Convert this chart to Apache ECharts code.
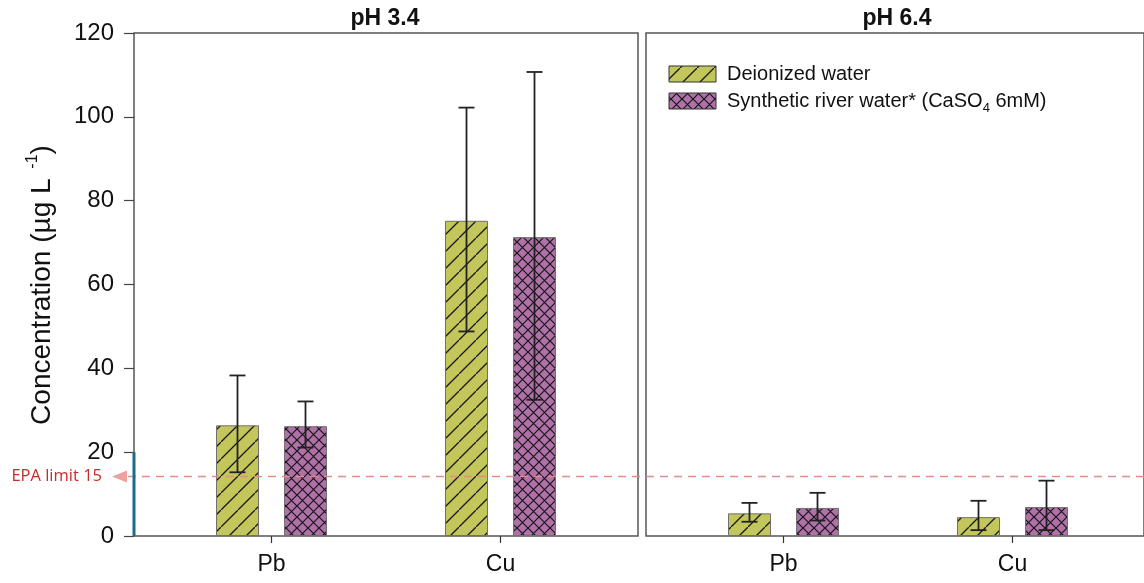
<!DOCTYPE html>
<html>
<head>
<meta charset="utf-8">
<script src="https://cdn.jsdelivr.net/npm/echarts@6/dist/echarts.min.js"></script>
<style>
html,body{margin:0;padding:0;background:#fff;}
#chart{width:1144px;height:583px;}
</style>
</head>
<body>
<div id="chart"></div>
<script>
// ---- data ----
const categories = ['Pb', 'Cu'];
const panelTitles = ['pH 3.4', 'pH 6.4'];
const seriesNames = ['Deionized water', 'Synthetic river water* (CaSO4 6mM)'];

const di_pH34 = [26.4, 75.2];
const di_pH34_lo = [15.2, 48.8];
const di_pH34_hi = [38.3, 102.2];
const srw_pH34 = [26.2, 71.3];
const srw_pH34_lo = [21.1, 32.5];
const srw_pH34_hi = [32.1, 110.7];

const di_pH64 = [5.4, 4.5];
const di_pH64_lo = [3.4, 1.4];
const di_pH64_hi = [7.9, 8.4];
const srw_pH64 = [6.7, 6.9];
const srw_pH64_lo = [3.7, 1.4];
const srw_pH64_hi = [10.3, 13.2];

const yMin = 0, yMax = 120, yInterval = 20;
const epaLimit = 14.2;
const epaLabel = 'EPA limit 15';
const blueSpan = [0, 20];

// ---- patterns ----
function hatchPattern(bg, size, width, draw) {
  const c = document.createElement('canvas');
  c.width = size; c.height = size;
  const ctx = c.getContext('2d');
  ctx.fillStyle = bg; ctx.fillRect(0, 0, size, size);
  ctx.strokeStyle = '#161616'; ctx.lineWidth = width;
  draw(ctx, size);
  return c;
}
const greenCanvas = hatchPattern('#c3c65a', 17, 1.3, (ctx, s) => {
  ctx.beginPath();
  ctx.moveTo(-1, s + 1); ctx.lineTo(s + 1, -1);
  ctx.moveTo(-3, 2); ctx.lineTo(2, -3);
  ctx.moveTo(s - 2, s + 3); ctx.lineTo(s + 3, s - 2);
  ctx.stroke();
});
const purpleCanvas = hatchPattern('#b071a8', 11, 1.2, (ctx, s) => {
  ctx.beginPath();
  ctx.moveTo(-1, -1); ctx.lineTo(s + 1, s + 1);
  ctx.moveTo(-1, s + 1); ctx.lineTo(s + 1, -1);
  ctx.stroke();
});
const greenFill = { image: greenCanvas, repeat: 'repeat' };
const purpleFill = { image: purpleCanvas, repeat: 'repeat' };

const barWidth = 43, barGapPx = 25;
const errOffset = (barWidth + barGapPx) / 2;

function errSeries(name, xIdx, lo, hi, offset) {
  return {
    type: 'custom', name: name, xAxisIndex: xIdx, yAxisIndex: xIdx, z: 10,
    data: categories.map((c, i) => [i, lo[i], hi[i]]),
    renderItem: function (params, api) {
      const pLo = api.coord([api.value(0), api.value(1)]);
      const pHi = api.coord([api.value(0), api.value(2)]);
      const x = pLo[0] + offset;
      const cap = 8;
      const st = { stroke: '#222', lineWidth: 1.8 };
      return {
        type: 'group', children: [
          { type: 'line', shape: { x1: x, y1: pLo[1], x2: x, y2: pHi[1] }, style: st },
          { type: 'line', shape: { x1: x - cap, y1: pHi[1], x2: x + cap, y2: pHi[1] }, style: st },
          { type: 'line', shape: { x1: x - cap, y1: pLo[1], x2: x + cap, y2: pLo[1] }, style: st }
        ]
      };
    }
  };
}
function barSeries(name, xIdx, data, fill) {
  return {
    type: 'bar', name: name, xAxisIndex: xIdx, yAxisIndex: xIdx,
    data: data, barWidth: barWidth, barGap: (barGapPx / barWidth * 100) + '%',
    itemStyle: { color: fill, borderColor: '#707070', borderWidth: 1 }
  };
}

const font = '"Liberation Sans", Arial, sans-serif';
const chart = echarts.init(document.getElementById('chart'), null, { renderer: 'canvas' });

const gridTop = 33, gridH = 503;
const catLabel = { fontSize: 23, color: '#111', margin: 17, fontFamily: font };
const option = {
  animation: false,
  backgroundColor: '#ffffff',
  textStyle: { fontFamily: font },
  title: [
    { text: panelTitles[0], left: 380, top: 2, textAlign: 'center',
      textStyle: { fontSize: 23, fontWeight: 'bold', color: '#111', fontFamily: font } },
    { text: panelTitles[1], left: 892, top: 2, textAlign: 'center',
      textStyle: { fontSize: 23, fontWeight: 'bold', color: '#111', fontFamily: font } }
  ],
  grid: [
    { left: 134, top: gridTop, width: 504, height: gridH, show: true, borderColor: '#555', borderWidth: 1.5, backgroundColor: 'transparent' },
    { left: 646, top: gridTop, width: 504, height: gridH, show: true, borderColor: '#555', borderWidth: 1.5, backgroundColor: 'transparent' },
    { left: 157, top: gridTop, width: 458, height: gridH },
    { left: 669, top: gridTop, width: 458, height: gridH }
  ],
  xAxis: [
    { type: 'value', gridIndex: 0, show: false },
    { type: 'value', gridIndex: 1, show: false },
    { type: 'category', gridIndex: 2, data: categories,
      axisLine: { show: false },
      axisTick: { show: true, alignWithLabel: true, length: 7, lineStyle: { color: '#333', width: 1.2 } },
      axisLabel: catLabel },
    { type: 'category', gridIndex: 3, data: categories,
      axisLine: { show: false },
      axisTick: { show: true, alignWithLabel: true, length: 7, lineStyle: { color: '#333', width: 1.2 } },
      axisLabel: catLabel }
  ],
  yAxis: [
    { type: 'value', gridIndex: 0, min: yMin, max: yMax, interval: yInterval,
      axisLine: { show: false },
      axisTick: { show: true, inside: false, length: 10, lineStyle: { color: '#444', width: 1.2 } },
      splitLine: { show: false },
      axisLabel: { fontSize: 24, color: '#111', margin: 20, fontFamily: font } },
    { type: 'value', gridIndex: 1, min: yMin, max: yMax, interval: yInterval, show: false, splitLine: { show: false } },
    { type: 'value', gridIndex: 2, min: yMin, max: yMax, interval: yInterval, show: false, splitLine: { show: false } },
    { type: 'value', gridIndex: 3, min: yMin, max: yMax, interval: yInterval, show: false, splitLine: { show: false } }
  ],
  series: [
    barSeries(seriesNames[0], 2, di_pH34, greenFill),
    barSeries(seriesNames[1], 2, srw_pH34, purpleFill),
    barSeries(seriesNames[0], 3, di_pH64, greenFill),
    barSeries(seriesNames[1], 3, srw_pH64, purpleFill),
    errSeries('e1', 2, di_pH34_lo, di_pH34_hi, -errOffset),
    errSeries('e2', 2, srw_pH34_lo, srw_pH34_hi, errOffset),
    errSeries('e3', 3, di_pH64_lo, di_pH64_hi, -errOffset),
    errSeries('e4', 3, srw_pH64_lo, srw_pH64_hi, errOffset)
  ]
};
chart.setOption(option);

// overlays positioned through the axis scale
const yEpa = chart.convertToPixel({ yAxisIndex: 0 }, epaLimit);
const yB0 = chart.convertToPixel({ yAxisIndex: 0 }, blueSpan[0]);
const yB1 = chart.convertToPixel({ yAxisIndex: 0 }, blueSpan[1]);

chart.setOption({
  graphic: [
    // y-axis title
    { type: 'text', x: 42, y: 285, rotation: Math.PI / 2, z: 50,
      style: { text: 'Concentration (µg L {sup|-1}{m|)}', align: 'center', verticalAlign: 'middle',
        font: '28px ' + font, fill: '#111',
        rich: { sup: { fontSize: 16, verticalAlign: 'top', lineHeight: 34, fill: '#111', fontFamily: font, padding: [0, 0, 0, 2] },
                m: { fontSize: 28, lineHeight: 34, fill: '#111', fontFamily: font } } } },
    // EPA limit line
    { type: 'line', z: 40, shape: { x1: 128, y1: yEpa, x2: 1144, y2: yEpa },
      style: { stroke: '#e88a8a', lineWidth: 1.3, lineDash: [8, 6] } },
    { type: 'polygon', z: 41, shape: { points: [[112, yEpa], [127, yEpa - 6], [127, yEpa + 6]] },
      style: { fill: '#eea0a0' } },
    { type: 'text', z: 41, x: 102, y: yEpa,
      style: { text: epaLabel, align: 'right', verticalAlign: 'middle', font: '16.5px "Open Sans", "Noto Sans", sans-serif', fill: '#cc2a2a' } },
    // blue span on y axis
    { type: 'line', z: 45, shape: { x1: 134, y1: yB0, x2: 134, y2: yB1 },
      style: { stroke: '#1c6b8c', lineWidth: 3 } },
    // legend
    { type: 'rect', z: 30, shape: { x: 669, y: 66, width: 47, height: 16 },
      style: { fill: greenFill, stroke: '#333', lineWidth: 1 } },
    { type: 'rect', z: 30, shape: { x: 669, y: 93, width: 47, height: 16 },
      style: { fill: purpleFill, stroke: '#333', lineWidth: 1 } },
    { type: 'text', z: 30, x: 727, y: 74,
      style: { text: seriesNames[0], verticalAlign: 'middle', font: '20px ' + font, fill: '#111' } },
    { type: 'text', z: 30, x: 727, y: 101,
      style: { text: 'Synthetic river water* (CaSO{sub|4} 6mM)', verticalAlign: 'middle', font: '20px ' + font, fill: '#111',
        rich: { sub: { fontSize: 13, verticalAlign: 'bottom', lineHeight: 28, fill: '#111', fontFamily: font } } } }
  ]
});
</script>
</body>
</html>
